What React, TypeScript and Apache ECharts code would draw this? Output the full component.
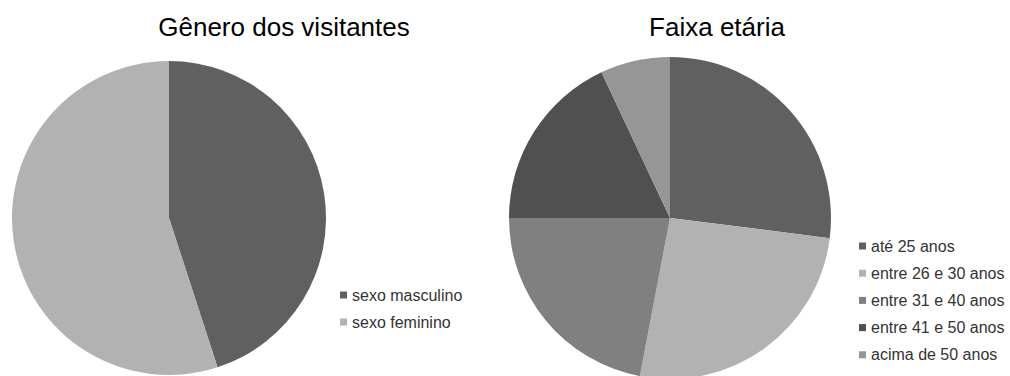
import React, { useEffect, useRef } from "react";
import * as echarts from "echarts";

const genderTitle = "Gênero dos visitantes";
const genderCategories = ["sexo masculino", "sexo feminino"];
const genderValues = [45, 55];
const genderColors = ["#606060", "#b2b2b2"];

const ageTitle = "Faixa etária";
const ageCategories = [
  "até 25 anos",
  "entre 26 e 30 anos",
  "entre 31 e 40 anos",
  "entre 41 e 50 anos",
  "acima de 50 anos",
];
const ageValues = [27, 26, 22, 18, 7];
const ageColors = ["#606060", "#b2b2b2", "#808080", "#505050", "#969696"];

const FONT = "'Liberation Sans', Arial, sans-serif";

export default function App() {
  const ref = useRef<HTMLDivElement>(null);
  useEffect(() => {
    if (!ref.current) return;
    const chart = echarts.init(ref.current, undefined, { renderer: "svg" });
    const legendText = { fontFamily: FONT, fontSize: 16, color: "#333333", lineHeight: 16 };
    chart.setOption({
      animation: false,
      backgroundColor: "#ffffff",
      title: [
        {
          text: genderTitle,
          left: 279,
          top: 9,
          textAlign: "center",
          textStyle: { fontFamily: FONT, fontSize: 26, fontWeight: "normal", color: "#000" },
        },
        {
          text: ageTitle,
          left: 712,
          top: 9,
          textAlign: "center",
          textStyle: { fontFamily: FONT, fontSize: 26, fontWeight: "normal", color: "#000" },
        },
      ],
      legend: [
        {
          data: genderCategories,
          orient: "vertical",
          left: 340,
          top: 287,
          itemWidth: 7,
          itemHeight: 7,
          itemGap: 11,
          icon: "rect",
          selectedMode: false,
          textStyle: legendText,
          padding: 0,
        },
        {
          data: ageCategories,
          orient: "vertical",
          left: 859,
          top: 238,
          itemWidth: 7,
          itemHeight: 7,
          itemGap: 11.2,
          icon: "rect",
          selectedMode: false,
          textStyle: legendText,
          padding: 0,
        },
      ],
      series: [
        {
          type: "pie",
          center: [169, 218],
          radius: 157,
          startAngle: 90,
          clockwise: true,
          label: { show: false },
          labelLine: { show: false },
          silent: true,
          data: genderCategories.map((name, i) => ({
            name,
            value: genderValues[i],
            itemStyle: { color: genderColors[i] },
          })),
        },
        {
          type: "pie",
          center: [670, 218],
          radius: 161,
          startAngle: 90,
          clockwise: true,
          label: { show: false },
          labelLine: { show: false },
          silent: true,
          data: ageCategories.map((name, i) => ({
            name,
            value: ageValues[i],
            itemStyle: { color: ageColors[i] },
          })),
        },
      ],
    });
    return () => chart.dispose();
  }, []);
  return (
    <div
      ref={ref}
      style={{ position: "fixed", left: 0, top: 0, width: 1010, height: 376 }}
    />
  );
}
